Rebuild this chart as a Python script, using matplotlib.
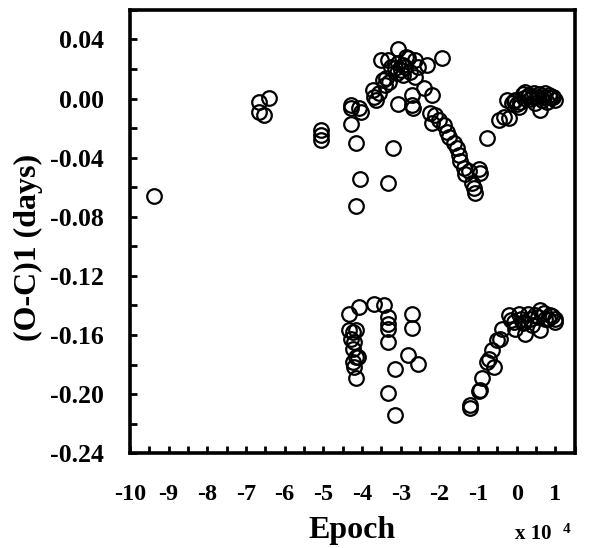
import matplotlib
matplotlib.use("Agg")
import matplotlib.pyplot as plt
from matplotlib.ticker import MultipleLocator, FixedLocator

# Epoch in units of 1e4, (O-C)1 in days
# upper branch
epoch_up = [-9.38, -6.67, -6.41, -6.67, -6.54, -5.06, -5.06, -5.06,
            -4.28, -4.28, -4.07, -4.02, -4.28, -4.15, -4.04, -4.15, -3.19, -3.32, -3.06,
            -3.71, -3.68, -3.63, -3.45, -3.37, -3.29, -3.50, -3.06, -3.32, -2.80, -2.64,
            -2.90, -2.77, -2.64, -2.33, -1.94, -2.72, -2.72, -2.67, -2.41, -2.20, -2.98,
            -3.16, -2.93, -3.06, -3.24, -2.54, -2.85, -3.40, -3.55, -3.10, -2.95,
            -2.25, -2.12, -2.20, -2.02, -1.89, -1.81, -1.76, -1.63, -1.55, -1.50, -1.47,
            -1.37, -1.34, -1.24, -0.98, -0.95, -1.16, -1.11, -1.08, -0.77,
            -0.46, -0.33, -0.20, -0.25, -0.12, 0.06, 0.20, 0.33, 0.40, 0.53, 0.61, 0.74,
            0.87, 1.00, 0.22, 0.48, -0.04, 0.66, 0.92, 0.79, 0.09, 0.15, 0.28, 0.45,
            0.58, 0.70, 0.83, 0.95, 0.35, -0.08, 0.02]
oc_up = [-0.066, -0.0024, 0.0004, -0.0092, -0.0112, -0.0215, -0.0249, -0.0283,
         -0.0044, -0.0064, -0.0064, -0.0092, -0.0174, -0.0303, -0.0543, -0.0727, -0.0338, -0.057, -0.0037,
         0.0059, 0.0011, -0.001, 0.0127, 0.014, 0.0113, 0.0263, 0.0332, 0.0263, 0.0277, 0.0263,
         0.0216, 0.0181, 0.0147, 0.0229, 0.0277, 0.0024, -0.0044, -0.0064, 0.0072, 0.0024, 0.0195,
         0.0209, 0.0161, 0.0243, 0.0216, 0.0216, 0.0284, 0.0090, 0.0040, 0.0170, 0.0230,
         -0.0099, -0.0112, -0.0167, -0.0146, -0.018, -0.0228, -0.0263, -0.0303, -0.0338, -0.0385, -0.042,
         -0.0467, -0.0508, -0.0488, -0.0474, -0.0502, -0.057, -0.0604, -0.0638, -0.0269,
         -0.0146, -0.0126, -0.0133, -0.001, -0.003, -0.0058, 0.0004, 0.0024, 0.0011, 0.0011, -0.0078, 0.0038,
         0.0011, -0.001, 0.0045, -0.003, -0.001, -0.001, 0.0011, -0.0024, -0.0024, 0.003, 0.002, 0.004,
         0.003, 0.001, 0.0025, 0.001, -0.0005, -0.002, -0.004]

# lower branch
epoch_lo = [-4.33, -4.07, -3.68, -3.42, -3.32, -3.32, -3.32, -3.32, -3.16, -3.32, -3.16,
            -2.72, -2.72, -2.80, -2.54, -4.33, -4.23, -4.15, -4.28, -4.20, -4.23, -4.15,
            -4.10, -4.23, -4.20, -4.15,
            -1.21, -1.21, -0.98, -0.95, -0.90, -0.77, -0.59, -0.72, -0.64, -0.51, -0.43,
            -0.38, -0.20, -0.07, 0.06, 0.22, 0.35, 0.61, 0.59, 0.74, 0.98, 0.40, 0.20,
            -0.04, 0.85, 1.00, 0.48, 0.10, 0.30, 0.55, 0.70, 0.90, -0.15, 0.15, 0.80]
oc_lo = [-0.1458, -0.141, -0.139, -0.1396, -0.1478, -0.1526, -0.156, -0.1649, -0.1833, -0.199, -0.2141,
         -0.1458, -0.1553, -0.1738, -0.1799, -0.1567, -0.158, -0.1567, -0.1629, -0.1649, -0.1697, -0.1751,
         -0.1751, -0.1786, -0.182, -0.1888,
         -0.2073, -0.2093, -0.1977, -0.197, -0.1888, -0.1786, -0.182, -0.1765, -0.1704, -0.1635, -0.1629,
         -0.156, -0.1465, -0.1512, -0.1458, -0.1594, -0.1492, -0.143, -0.1567, -0.1492, -0.1492, -0.1533, -0.1512,
         -0.156, -0.1465, -0.1512, -0.1465, -0.149, -0.146, -0.148, -0.145, -0.147, -0.150, -0.152, -0.149]

plt.rcParams['font.family'] = 'Liberation Serif'
plt.rcParams['font.weight'] = 'bold'

fig = plt.figure(figsize=(6.16, 5.48), dpi=100)
ax = fig.add_axes([0.211, 0.173, 0.722, 0.809])

ax.plot(epoch_up, oc_up, 'o', mfc='none', mec='black', ms=10.5, mew=1.6)
ax.plot(epoch_lo, oc_lo, 'o', mfc='none', mec='black', ms=10.5, mew=1.6)

ax.set_xlim(-10, 1.5)
ax.set_ylim(-0.24, 0.06)

ax.xaxis.set_major_locator(FixedLocator(range(-10, 2)))
ax.xaxis.set_minor_locator(MultipleLocator(0.5))
ax.yaxis.set_minor_locator(MultipleLocator(0.02))
ax.set_yticks([-0.24, -0.20, -0.16, -0.12, -0.08, -0.04, 0.0, 0.04])
ax.set_yticklabels(['-0.24', '-0.20', '-0.16', '-0.12', '-0.08', '-0.04', '0.00', '0.04'])
ax.set_xticklabels([str(v) for v in range(-10, 2)])

ax.tick_params(which='both', direction='in', width=2, top=False, right=False)
ax.tick_params(which='major', length=5)
ax.tick_params(axis='x', which='major', labelsize=17.5, pad=22)
ax.tick_params(axis='y', which='major', labelsize=18.5, pad=19)
ax.tick_params(which='minor', length=5)
for s in ax.spines.values():
    s.set_linewidth(2.6)

ax.set_xlabel('Epoch', fontsize=23, fontweight='bold', labelpad=8)
ax.set_ylabel('(O-C)1 (days)', fontsize=23, fontweight='bold')
ax.yaxis.set_label_coords(-0.195, 0.463)

fig.text(0.836, 0.016, 'x 10', fontsize=15, fontweight='bold')
fig.text(0.914, 0.027, '4', fontsize=11, fontweight='bold')

fig.savefig('out.png', dpi=100)
